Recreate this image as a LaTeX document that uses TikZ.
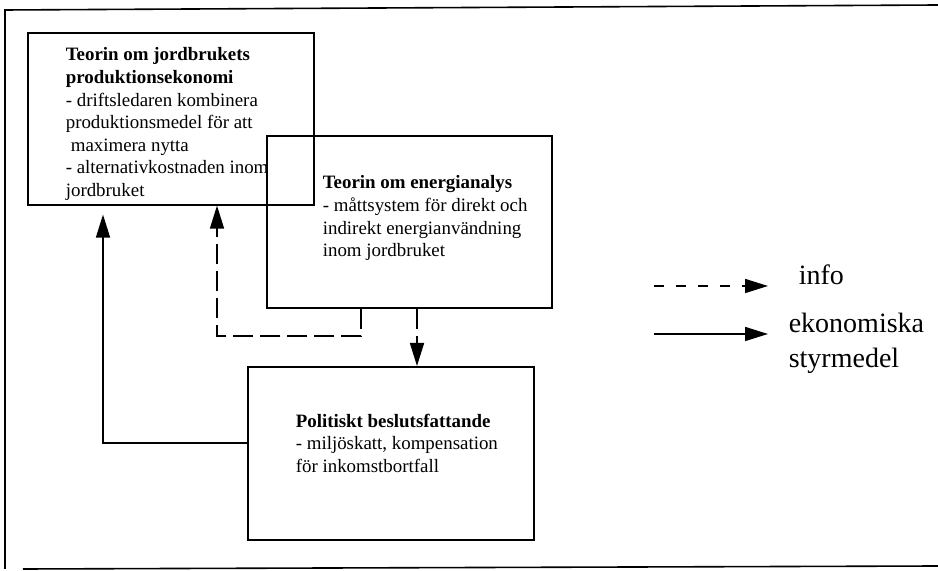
\documentclass[tikz,border=0pt]{standalone}
\usepackage{fontspec}
\setmainfont{Liberation Serif}
\usetikzlibrary{arrows.meta,calc}
\begin{document}
\begin{tikzpicture}[x=0.5pt,y=-0.5pt,
  line width=0.8pt,
  boxnode/.style={draw,rectangle,inner sep=0pt,anchor=north west},
  txt/.style={inner sep=0pt,anchor=north west,align=left,font=\fontsize{9.45}{11.3}\selectfont},
  legtxt/.style={inner sep=0pt,anchor=base west,align=left,font=\fontsize{14}{17.5}\selectfont},
  tip/.style={-{Triangle[length=11.5pt,width=7pt]}},
  infodash/.style={dash pattern=on 10pt off 3.5pt},
  legdash/.style={dash pattern=on 5pt off 6pt}]
\useasboundingbox (0,0) rectangle (938,571);
% outer frame
\coordinate (f1) at (938,5);
\coordinate (f2) at (5,10);
\coordinate (f3) at (5,569);
\coordinate (f4) at (23,569);
\coordinate (f5) at (938,566);
\draw (f1) -- (f2) -- (f3);
\draw (f4) -- (f5);
% boxes
\node[boxnode,minimum width=143pt,minimum height=86pt] (box1) at (27,32) {};
\node[boxnode,minimum width=142.5pt,minimum height=86pt] (box2) at (266,135) {};
\node[boxnode,minimum width=143pt,minimum height=86.5pt] (box3) at (247,366) {};
% texts
\node[txt] (t1) at (65,47) {\textbf{Teorin om jordbrukets}\\\textbf{produktionsekonomi}\\- driftsledaren kombinera\\produktionsmedel för att\\\hspace{2.5pt}maximera nytta\\- alternativkostnaden inom\\jordbruket};
\node[txt] (t2) at (322,175) {\textbf{Teorin om energianalys}\\- måttsystem för direkt och\\indirekt energianvändning\\inom jordbruket};
\node[txt] (t3) at (295,413) {\textbf{Politiskt beslutsfattande}\\- miljöskatt, kompensation\\för inkomstbortfall};
% connectors
\coordinate (c1) at (103,443);
\coordinate (d1) at (361,336);
\coordinate (d2) at (217,336);
\draw[tip,shorten >=4.5pt] (box3.west |- c1) -- (c1) -- (c1 |- box1.south);
\draw[tip,infodash] (d1 |- box2.south) -- (d1) -- (d2) -- (d2 |- box1.south);
\coordinate (d3) at (417,0);
\draw[tip,infodash] (d3 |- box2.south) -- (d3 |- box3.north);
% legend
\coordinate (l1) at (654,286);
\coordinate (l2) at (768,286);
\coordinate (l3) at (654,334);
\coordinate (l4) at (768,334);
\draw[tip,legdash] (l1) -- (l2);
\draw[tip] (l3) -- (l4);
\node[legtxt] (info) at (798,285) {info};
\node[legtxt] (eko) at (788,368) {ekonomiska\\styrmedel};
\end{tikzpicture}
\end{document}
